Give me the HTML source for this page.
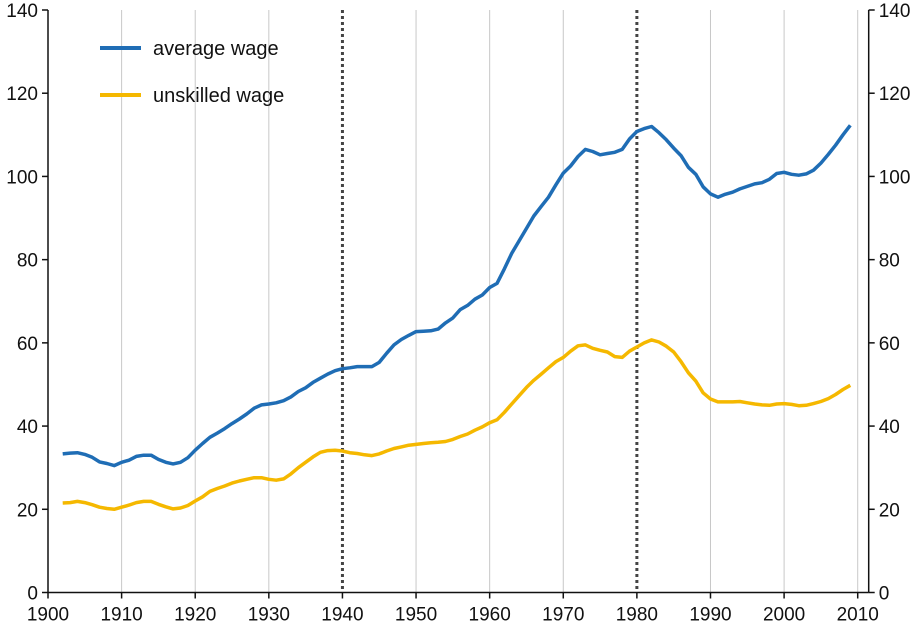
<!DOCTYPE html>
<html><head><meta charset="utf-8">
<style>
html,body{margin:0;padding:0;background:#fff;}
svg text{font-family:"Liberation Sans",Arial,sans-serif;fill:#111;}
</style></head>
<body>
<svg id="chart" width="917" height="627" viewBox="0 0 917 627" xmlns="http://www.w3.org/2000/svg">
<g id="grid"></g>
<g id="axes"></g>
<g id="series"></g>
<g>
  <line x1="100" y1="48" x2="141" y2="48" stroke="#1f6db5" stroke-width="4"/>
  <text x="153" y="55" font-size="20">average wage</text>
  <line x1="100" y1="95" x2="141" y2="95" stroke="#f5b800" stroke-width="4"/>
  <text x="153" y="102" font-size="20">unskilled wage</text>
</g>
</svg>
<script>
const startYear = 1902;
const averageWage = [33.3,33.5,33.6,33.2,32.5,31.4,31.0,30.5,31.3,31.8,32.7,33.0,33.0,32.0,31.3,30.9,31.3,32.4,34.2,35.8,37.3,38.3,39.4,40.6,41.7,42.9,44.3,45.1,45.3,45.6,46.1,47.0,48.3,49.2,50.5,51.5,52.5,53.3,53.8,54.0,54.3,54.3,54.3,55.3,57.5,59.5,60.8,61.8,62.7,62.8,62.9,63.3,64.8,66.0,68.0,69.0,70.5,71.5,73.3,74.3,77.8,81.5,84.5,87.5,90.5,92.8,95.0,98.0,100.8,102.5,104.8,106.5,106.0,105.2,105.5,105.8,106.5,109.0,110.8,111.5,112.0,110.5,108.8,106.8,105.0,102.2,100.5,97.5,95.8,95.0,95.7,96.2,97.0,97.6,98.2,98.5,99.3,100.7,101.0,100.5,100.3,100.6,101.5,103.2,105.3,107.5,110.0,112.3];
const unskilledWage = [21.5,21.6,21.9,21.6,21.1,20.5,20.2,20.0,20.5,21.0,21.6,21.9,21.9,21.2,20.6,20.1,20.3,20.9,22.0,23.0,24.3,25.0,25.6,26.3,26.8,27.2,27.6,27.6,27.2,27.0,27.3,28.5,30.0,31.3,32.6,33.7,34.1,34.2,34.0,33.6,33.4,33.1,32.9,33.3,34.0,34.6,35.0,35.4,35.6,35.8,36.0,36.1,36.3,36.8,37.5,38.1,39.0,39.8,40.8,41.5,43.3,45.3,47.3,49.3,51.0,52.5,54.0,55.5,56.5,58.0,59.3,59.5,58.7,58.2,57.8,56.7,56.5,58.0,59.0,60.0,60.7,60.2,59.2,57.8,55.5,52.8,50.8,48.0,46.5,45.8,45.8,45.8,45.9,45.6,45.3,45.1,45.0,45.3,45.4,45.2,44.9,45.0,45.4,45.9,46.6,47.6,48.8,49.8];
const xTicks = [1900,1910,1920,1930,1940,1950,1960,1970,1980,1990,2000,2010];
const yTicks = [0,20,40,60,80,100,120,140];
const markerYears = [1940,1980];

const NS="http://www.w3.org/2000/svg";
const X0=48, XR=868.7, Y0=592.5;
function xs(yr){return X0+(yr-1900)*7.361;}
function ys(v){return Y0-v*4.1607;}
function mk(tag,attrs,parent){const e=document.createElementNS(NS,tag);for(const k in attrs)e.setAttribute(k,attrs[k]);parent.appendChild(e);return e;}
const grid=document.getElementById('grid'),axes=document.getElementById('axes'),series=document.getElementById('series');

xTicks.forEach(t=>{
  if(t>1900&&markerYears.indexOf(t)<0){
    const g=mk('line',{x1:xs(t),x2:xs(t),y1:ys(140),y2:Y0,stroke:'#c8c8c8','stroke-width':1},grid);
    
    
  }
  const tk=mk('line',{x1:xs(t),x2:xs(t),y1:Y0,y2:Y0+6,stroke:'#111','stroke-width':1.5},axes);
  
  
  const lb=mk('text',{x:xs(t),y:Y0+28,'font-size':19,'text-anchor':'middle'},axes);
  lb.textContent=t;
  
  
});
markerYears.forEach(t=>{
  const m=mk('line',{x1:xs(t),x2:xs(t),y1:ys(140),y2:Y0,stroke:'#444','stroke-width':3,'stroke-dasharray':'3,3'},grid);
  
  
});
yTicks.forEach(v=>{
  const l=mk('line',{x1:X0-6,x2:X0,y1:ys(v),y2:ys(v),stroke:'#111','stroke-width':1.5},axes);
  
  
  const r=mk('line',{x1:XR,x2:XR+6,y1:ys(v),y2:ys(v),stroke:'#111','stroke-width':1.5},axes);
  
  
  const lt=mk('text',{x:X0-10,y:ys(v)+7,'font-size':19,'text-anchor':'end'},axes);
  lt.textContent=v;
  
  
  const rt=mk('text',{x:XR+10,y:ys(v)+7,'font-size':19,'text-anchor':'start'},axes);
  rt.textContent=v;
  
  
});
const la=mk('line',{x1:X0,x2:X0,y1:ys(140),y2:Y0,stroke:'#111','stroke-width':1.5},axes);


const ra=mk('line',{x1:XR,x2:XR,y1:ys(140),y2:Y0,stroke:'#111','stroke-width':1.5},axes);


const xa=mk('line',{x1:X0,x2:XR,y1:Y0,y2:Y0,stroke:'#111','stroke-width':1.5},axes);



function path(arr){return arr.map((v,i)=>(i?'L':'M')+xs(startYear+i).toFixed(1)+','+ys(v).toFixed(1)).join('');}
const pu=mk('path',{d:path(unskilledWage),fill:'none',stroke:'#f5b800','stroke-width':3.5,'stroke-linejoin':'round'},series);


const pa=mk('path',{d:path(averageWage),fill:'none',stroke:'#1f6db5','stroke-width':3.5,'stroke-linejoin':'round'},series);


</script>
</body></html>
